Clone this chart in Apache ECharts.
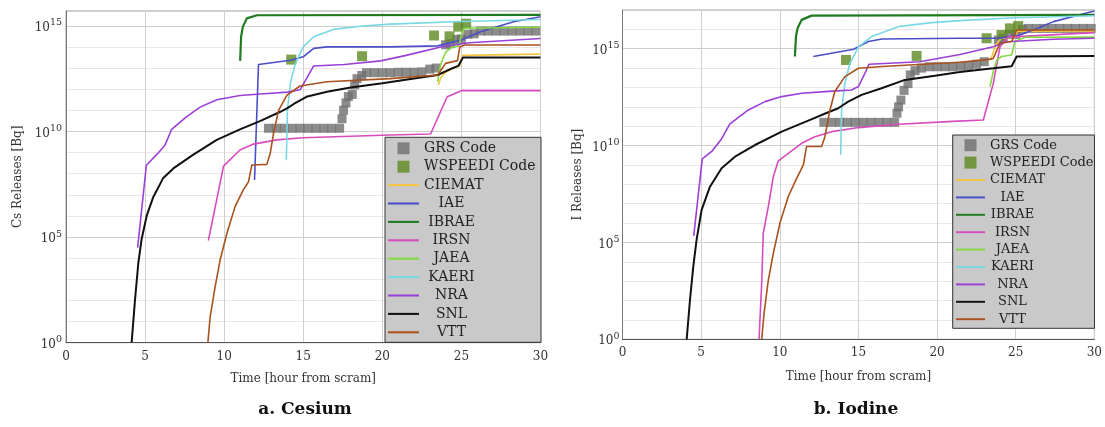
<!DOCTYPE html>
<html>
<head>
<meta charset="utf-8">
<title>Cs and I releases</title>
<script src="https://cdn.jsdelivr.net/npm/echarts@6/dist/echarts.min.js"></script>
<style>
  html, body { margin: 0; padding: 0; background: #fff; }
  #chart { width: 1105px; height: 427px; }
</style>
</head>
<body>
<div id="chart"></div>
<script>
// x = hours from scram, y = log10 of the release in Bq
const decadeLabels = [0, 5, 10, 15];
const legendNames = ["GRS Code", "WSPEEDI Code", "CIEMAT", "IAE", "IBRAE", "IRSN", "JAEA", "KAERI", "NRA", "SNL", "VTT"];

// ---- a. Cesium ----
const csGRS = [
  [12.8, 10.15], [13.3, 10.15], [13.8, 10.15], [14.3, 10.15], [14.8, 10.15], [15.3, 10.15], [15.8, 10.15], [16.3, 10.15], [16.8, 10.15], [17.3, 10.15],
  [17.45, 10.6], [17.55, 11.0], [17.7, 11.35], [17.85, 11.65], [18.1, 11.75], [18.25, 12.2], [18.4, 12.5], [18.7, 12.65],
  [19.0, 12.78], [19.5, 12.78], [20.0, 12.78], [20.5, 12.78], [21.0, 12.8], [21.5, 12.8], [22.0, 12.8], [22.5, 12.82], [23.0, 12.95], [23.4, 13.0],
  [24.0, 14.1], [24.3, 14.15], [24.7, 14.35], [25.0, 14.38], [25.4, 14.6], [25.8, 14.62], [26.2, 14.75], [26.7, 14.75], [27.2, 14.75],
  [27.7, 14.75], [28.2, 14.75], [28.7, 14.75], [29.2, 14.75], [29.7, 14.75]
];
const csWSPEEDI = [[14.24, 13.4], [18.72, 13.56], [23.27, 14.54], [24.25, 14.5], [24.8, 14.96], [25.3, 15.1]];
const csCIEMAT = [[23.55, 12.2], [23.7, 12.55], [24.0, 12.8], [24.5, 13.0], [24.9, 13.1], [25.05, 13.6], [30, 13.66]];
const csIAE = [[11.92, 7.7], [12.17, 13.17], [14.2, 13.37], [15, 13.53], [15.66, 13.93], [16.5, 14.0], [20.5, 14.0], [23.5, 14.05], [25, 14.33], [26.2, 14.72], [28.3, 15.19], [30, 15.43]];
const csIBRAE = [[11.01, 13.34], [11.07, 14.48], [11.18, 14.95], [11.43, 15.35], [12.07, 15.5], [30, 15.52]];
const csIRSN = [[9.0, 4.83], [9.96, 8.36], [11, 9.12], [11.85, 9.4], [13.33, 9.6], [15, 9.7], [20.5, 9.83], [23.05, 9.88], [24.1, 11.64], [25, 11.93], [30, 11.93]];
const csJAEA = [[23.5, 12.35], [23.6, 12.9], [23.75, 13.3], [24.0, 13.75], [24.4, 13.98], [24.85, 14.05], [25.0, 14.6], [25.2, 14.88], [30, 14.93]];
const csKAERI = [[13.93, 8.64], [14.0, 11.0], [14.18, 12.27], [14.5, 13.2], [15, 14.0], [15.66, 14.48], [16.9, 14.83], [18.6, 14.98], [20.5, 15.08], [25, 15.2], [30, 15.3]];
const csNRA = [[4.53, 4.5], [5.08, 8.4], [5.73, 8.9], [6.26, 9.35], [6.68, 10.1], [7.63, 10.7], [8.48, 11.15], [9.53, 11.5], [11, 11.7], [12.3, 11.77], [14, 11.86], [14.8, 11.97], [15.2, 12.5], [15.66, 13.1], [17.6, 13.17], [19.9, 13.34], [21.5, 13.6], [23.7, 14.0], [25.5, 14.2], [30, 14.4]];
const csSNL = [[4.15, 0], [4.36, 2], [4.57, 3.75], [4.78, 4.9], [5.1, 6], [5.52, 6.9], [6.15, 7.8], [6.79, 8.25], [8.05, 8.9], [9.53, 9.6], [11, 10.1], [12.3, 10.5], [13.55, 10.93], [14, 11.1], [14.4, 11.3], [15.2, 11.64], [16.5, 11.88], [18, 12.08], [20, 12.28], [22, 12.5], [23.5, 12.67], [24.4, 12.98], [24.8, 13.1], [25.1, 13.5], [30, 13.5]];
const csVTT = [[8.97, 0], [9.11, 1.2], [9.43, 2.65], [9.74, 3.9], [10.17, 5.17], [10.69, 6.44], [11.2, 7.22], [11.54, 7.62], [11.75, 8.41], [12.7, 8.44], [12.91, 8.96], [13.12, 9.9], [13.44, 11.0], [13.97, 11.72], [14.8, 12.15], [16.5, 12.35], [20.5, 12.5], [23.5, 12.67], [24, 13.22], [24.75, 13.35], [24.9, 14.0], [25.2, 14.09], [30, 14.09]];

// ---- b. Iodine ----
const ioGRS = [
  [12.8, 11.2], [13.3, 11.2], [13.8, 11.2], [14.3, 11.2], [14.8, 11.2], [15.3, 11.2], [15.8, 11.2], [16.3, 11.2], [16.8, 11.2], [17.3, 11.2],
  [17.45, 11.67], [17.55, 12.0], [17.7, 12.35], [17.9, 12.85], [18.15, 13.2], [18.3, 13.65], [18.6, 13.87], [19.0, 14.0],
  [19.5, 14.07], [20.0, 14.07], [20.5, 14.07], [21.0, 14.07], [21.5, 14.1], [22.0, 14.1], [22.5, 14.2], [23.0, 14.33],
  [23.9, 15.45], [24.2, 15.55], [24.6, 15.74], [25.0, 15.74], [25.4, 16.0], [25.8, 16.05], [26.3, 16.05], [26.8, 16.05],
  [27.3, 16.05], [27.8, 16.05], [28.3, 16.05], [28.8, 16.05], [29.3, 16.05], [29.8, 16.05]
];
const ioWSPEEDI = [[14.21, 14.42], [18.7, 14.63], [23.15, 15.54], [24.1, 15.71], [24.63, 16.05], [25.16, 16.17]];
const ioCIEMAT = [[23.4, 14.4], [23.6, 14.9], [23.8, 15.27], [24.1, 15.55], [25.0, 15.6], [25.1, 15.9], [30, 15.92]];
const ioIAE = [[12.13, 14.6], [14.7, 14.97], [15.63, 15.37], [16.5, 15.5], [21.5, 15.54], [24, 15.55], [25.27, 15.71], [26.5, 16.1], [27.4, 16.4], [30, 16.95]];
const ioIBRAE = [[10.96, 14.6], [11.03, 15.63], [11.13, 16.06], [11.39, 16.49], [12.02, 16.71], [30, 16.75]];
const ioIRSN = [[8.68, 0], [8.85, 2.9], [8.95, 5.47], [9.27, 6.85], [9.59, 8.4], [9.9, 9.2], [10.54, 9.6], [11.39, 10.12], [12.23, 10.46], [13.3, 10.72], [15, 10.93], [17.53, 11.1], [21, 11.25], [22.94, 11.32], [23.57, 13.2], [24.0, 15.1], [24.5, 15.6], [30, 15.83]];
const ioJAEA = [[23.36, 13.04], [23.6, 13.9], [23.8, 14.42], [24.1, 14.6], [24.74, 14.68], [24.95, 15.37], [25.6, 15.59], [30, 15.6]];
const ioKAERI = [[13.87, 9.52], [13.93, 11.84], [14.14, 13.22], [14.46, 14.25], [15, 15.1], [15.84, 15.63], [17.53, 16.14], [19.65, 16.35], [21.45, 16.45], [25, 16.6], [30, 16.7]];
const ioNRA = [[4.53, 5.34], [5.07, 9.31], [5.67, 9.7], [6.26, 10.3], [6.83, 11.12], [8, 11.84], [9.06, 12.27], [10.12, 12.53], [11.4, 12.7], [13.1, 12.8], [14.56, 12.87], [15, 13.05], [15.41, 13.73], [15.67, 14.2], [18.9, 14.33], [21.46, 14.7], [23.57, 15.1], [24.4, 15.36], [27.4, 15.49], [30, 15.54]];
const ioSNL = [[4.08, 0], [4.29, 2.03], [4.5, 3.75], [4.71, 5.13], [5.03, 6.68], [5.56, 7.88], [6.3, 8.83], [7.15, 9.43], [8.42, 10.03], [10.12, 10.72], [11.81, 11.29], [13.08, 11.72], [13.72, 11.93], [14.35, 12.27], [15.2, 12.62], [16.47, 12.96], [17.95, 13.39], [19.86, 13.6], [21.45, 13.8], [23.57, 13.99], [24.74, 14.1], [25.06, 14.6], [30, 14.62]];
const ioVTT = [[8.85, 0], [9.0, 1.34], [9.27, 3.06], [9.59, 4.44], [10.01, 6.0], [10.54, 7.37], [11.07, 8.31], [11.5, 9.0], [11.7, 9.95], [12.66, 9.95], [12.87, 10.46], [13.19, 11.84], [13.5, 12.79], [14.14, 13.56], [15, 13.99], [16.5, 14.08], [21.45, 14.3], [23.3, 14.45], [23.57, 14.5], [24.0, 15.28], [24.74, 15.37], [25.06, 15.97], [30, 15.97]];

const lineColors = {
  CIEMAT: "#f5c542", IAE: "#4a4ec8", IBRAE: "#1f7a1f", IRSN: "#d64bbd", JAEA: "#84d941",
  KAERI: "#78d8e4", NRA: "#9a40d8", SNL: "#111111", VTT: "#a9521d"
};
const lineWidths = { IBRAE: 2.2, SNL: 2 };

const serif = "DejaVu Serif";
const squareIcon = "path://M0,0H10V10H0Z";
const lineIcon = "path://M0,0H30V2H0Z";

function chartSeries(grs, wspeedi, lines, xIdx, yIdx) {
  const out = [
    { name: "GRS Code", type: "scatter", xAxisIndex: xIdx, yAxisIndex: yIdx, symbol: "rect", symbolSize: 9,
      itemStyle: { color: "#6f6f6f" }, data: grs },
    { name: "WSPEEDI Code", type: "scatter", xAxisIndex: xIdx, yAxisIndex: yIdx, symbol: "rect", symbolSize: 10,
      itemStyle: { color: "#5c8a21" }, data: wspeedi }
  ];
  for (const name in lines) {
    out.push({
      name: name, type: "line", xAxisIndex: xIdx, yAxisIndex: yIdx,
      symbol: "none", showSymbol: false,
      lineStyle: { color: lineColors[name], width: lineWidths[name] || 1.6 },
      itemStyle: { color: lineColors[name] },
      data: lines[name]
    });
  }
  return out;
}

function legendBox(left, top, iconW, wideW, narrowW, fontSize, padding) {
  return {
    orient: "vertical", left: left, top: top, selectedMode: false,
    data: legendNames.map(n => ({ name: n, icon: n.indexOf("Code") > 0 ? squareIcon : lineIcon })),
    itemWidth: iconW, itemHeight: 12, itemGap: 4.4, padding: padding,
    backgroundColor: "#c9c9c9", borderColor: "#333", borderWidth: 1,
    formatter: n => (n.indexOf("Code") > 0 || n === "CIEMAT") ? "{l|" + n + "}" : "{c|" + n + "}",
    textStyle: {
      fontFamily: serif, fontSize: fontSize, color: "#222",
      rich: {
        l: { width: wideW, align: "left", fontFamily: serif, fontSize: fontSize, lineHeight: 14, color: "#222" },
        c: { width: narrowW, align: "center", fontFamily: serif, fontSize: fontSize, lineHeight: 14, color: "#222" }
      }
    }
  };
}

function xAxisFor(gridIndex, gap) {
  return {
    type: "value", gridIndex: gridIndex, min: 0, max: 30, interval: 5,
    name: "Time [hour from scram]", nameLocation: "middle", nameGap: gap,
    nameTextStyle: { fontFamily: serif, fontSize: 12, color: "#333" },
    axisLine: { show: true, lineStyle: { color: "#555", width: 1 } },
    axisTick: { show: false },
    axisLabel: { fontFamily: serif, fontSize: 12, color: "#333", margin: 8 },
    splitLine: { show: true, lineStyle: { color: "#d0d0d0", width: 1 } }
  };
}

function minorYAxis(gridIndex, max) {
  return {
    type: "value", gridIndex: gridIndex, position: "left", min: 0, max: max, interval: 1,
    axisLine: { show: false }, axisTick: { show: false }, axisLabel: { show: false },
    splitLine: { show: true, lineStyle: { color: "#efe5e5", width: 1 } }
  };
}

function majorYAxis(gridIndex, max, name, gap, margin) {
  return {
    type: "value", gridIndex: gridIndex, position: "left", min: 0, max: max, interval: 5,
    name: name, nameLocation: "middle", nameGap: gap,
    nameTextStyle: { fontFamily: serif, fontSize: 12, color: "#333" },
    axisLine: { show: true, lineStyle: { color: "#777", width: 1 } },
    axisTick: { show: false },
    axisLabel: {
      margin: margin, color: "#333",
      formatter: v => decadeLabels.indexOf(v) >= 0 ? "{b|10}{s|" + v + "}" : "",
      rich: {
        b: { fontFamily: serif, fontSize: 12, lineHeight: 16, verticalAlign: "bottom", color: "#333" },
        s: { fontFamily: serif, fontSize: 9.5, lineHeight: 10, verticalAlign: "top", color: "#333" }
      }
    },
    splitLine: { show: true, lineStyle: { color: "#cfcfcf", width: 1 } }
  };
}

const chart = echarts.init(document.getElementById("chart"), null, { renderer: "canvas" });

chart.setOption({
  animation: false,
  backgroundColor: "#ffffff",
  grid: [
    { left: 66, right: 564.5, top: 11, bottom: 84.3, show: true, borderColor: "#a0a0a0", borderWidth: 1 },
    { left: 622.5, right: 10.6, top: 10, bottom: 87.7, show: true, borderColor: "#a0a0a0", borderWidth: 1 }
  ],
  xAxis: [xAxisFor(0, 30), xAxisFor(1, 32)],
  yAxis: [
    minorYAxis(0, 15.7),
    majorYAxis(0, 15.7, "Cs Releases [Bq]", 42, 4),
    minorYAxis(1, 17),
    majorYAxis(1, 17, "I Releases [Bq]", 39, 3)
  ],
  legend: [
    legendBox(385, 137.3, 31, 112, 55, 14, [4, 5, 3, 3]),
    legendBox(952.7, 135, 29, 103, 45, 13, [3.7, 1, 2.6, 3.3])
  ],
  series: [].concat(
    chartSeries(csGRS, csWSPEEDI, {
      CIEMAT: csCIEMAT, IAE: csIAE, IBRAE: csIBRAE, IRSN: csIRSN, JAEA: csJAEA,
      KAERI: csKAERI, NRA: csNRA, SNL: csSNL, VTT: csVTT
    }, 0, 1),
    chartSeries(ioGRS, ioWSPEEDI, {
      CIEMAT: ioCIEMAT, IAE: ioIAE, IBRAE: ioIBRAE, IRSN: ioIRSN, JAEA: ioJAEA,
      KAERI: ioKAERI, NRA: ioNRA, SNL: ioSNL, VTT: ioVTT
    }, 1, 3)
  ),
  graphic: [
    { type: "text", x: 305, y: 410, style: { text: "a. Cesium", align: "center", verticalAlign: "middle",
      fontFamily: serif, fontWeight: "bold", fontSize: 17, fill: "#111" } },
    { type: "text", x: 856, y: 410, style: { text: "b. Iodine", align: "center", verticalAlign: "middle",
      fontFamily: serif, fontWeight: "bold", fontSize: 17, fill: "#111" } }
  ]
});
</script>
</body>
</html>
